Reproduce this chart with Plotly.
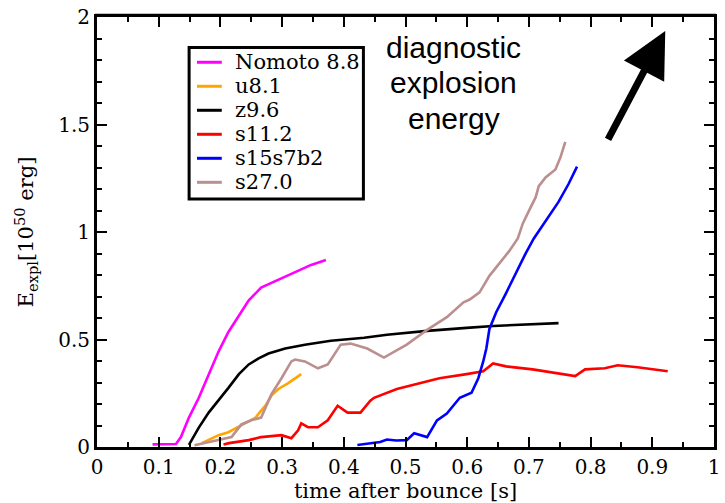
import plotly.graph_objects as go

# Diagnostic explosion energy vs. time after bounce for several progenitors
nomoto_t = [0.090, 0.110, 0.128, 0.136, 0.149, 0.165, 0.181, 0.197, 0.213, 0.230, 0.246, 0.266, 0.294, 0.326, 0.347, 0.371]
nomoto_e = [0.012, 0.012, 0.014, 0.046, 0.137, 0.229, 0.339, 0.444, 0.535, 0.613, 0.682, 0.741, 0.778, 0.819, 0.847, 0.870]

u81_t = [0.170, 0.197, 0.213, 0.241, 0.257, 0.266, 0.273, 0.283, 0.294, 0.310, 0.331]
u81_e = [0.018, 0.055, 0.069, 0.110, 0.137, 0.169, 0.192, 0.240, 0.270, 0.297, 0.339]

z96_t = [0.149, 0.165, 0.181, 0.197, 0.213, 0.230, 0.246, 0.262, 0.278, 0.305, 0.337, 0.379, 0.433, 0.470, 0.535, 0.599, 0.642, 0.748]
z96_e = [0.010, 0.090, 0.160, 0.215, 0.275, 0.339, 0.384, 0.412, 0.435, 0.458, 0.476, 0.494, 0.508, 0.522, 0.540, 0.554, 0.563, 0.576]

s112_t = [0.205, 0.214, 0.246, 0.266, 0.299, 0.315, 0.326, 0.331, 0.342, 0.358, 0.374, 0.390, 0.406, 0.427, 0.443,
          0.449, 0.486, 0.523, 0.555, 0.599, 0.626, 0.642, 0.663, 0.706, 0.748, 0.775, 0.791, 0.823, 0.844, 0.876, 0.925]
s112_e = [0.012, 0.018, 0.032, 0.046, 0.055, 0.041, 0.078, 0.110, 0.092, 0.092, 0.124, 0.192, 0.160, 0.160, 0.215,
          0.229, 0.270, 0.297, 0.320, 0.339, 0.352, 0.389, 0.375, 0.361, 0.343, 0.330, 0.361, 0.366, 0.380, 0.371, 0.352]

s15_t = [0.422, 0.459, 0.470, 0.485, 0.502, 0.514, 0.535, 0.551, 0.567, 0.588, 0.607, 0.618, 0.626, 0.631, 0.636,
         0.647, 0.662, 0.679, 0.695, 0.708, 0.727, 0.748, 0.764, 0.778]
s15_e = [0.009, 0.023, 0.035, 0.030, 0.032, 0.064, 0.046, 0.124, 0.156, 0.229, 0.252, 0.320, 0.398, 0.458, 0.549,
         0.627, 0.710, 0.810, 0.902, 0.970, 1.053, 1.140, 1.222, 1.304]

s27_t = [0.158, 0.197, 0.218, 0.234, 0.250, 0.266, 0.283, 0.299, 0.315, 0.321, 0.337, 0.358, 0.374, 0.395, 0.411,
         0.438, 0.465, 0.502, 0.535, 0.567, 0.594, 0.604, 0.620, 0.636, 0.652, 0.668, 0.682, 0.690, 0.700, 0.711,
         0.716, 0.727, 0.743, 0.751, 0.759]
s27_e = [0.008, 0.032, 0.046, 0.105, 0.124, 0.137, 0.247, 0.320, 0.398, 0.407, 0.398, 0.366, 0.384, 0.476, 0.481,
         0.458, 0.416, 0.476, 0.545, 0.604, 0.673, 0.686, 0.719, 0.796, 0.856, 0.911, 0.970, 1.039, 1.098, 1.162,
         1.213, 1.254, 1.291, 1.346, 1.419]

series = [
    ("Nomoto 8.8", nomoto_t, nomoto_e, "#ff00ff"),
    ("u8.1", u81_t, u81_e, "#ffa500"),
    ("z9.6", z96_t, z96_e, "#000000"),
    ("s11.2", s112_t, s112_e, "#ff0000"),
    ("s15s7b2", s15_t, s15_e, "#0000ff"),
    ("s27.0", s27_t, s27_e, "#bc8f8f"),
]

x_ticks = [0, 0.1, 0.2, 0.3, 0.4, 0.5, 0.6, 0.7, 0.8, 0.9, 1]
x_tick_text = ["0", "0.1", "0.2", "0.3", "0.4", "0.5", "0.6", "0.7", "0.8", "0.9", "1"]
y_ticks = [0, 0.5, 1, 1.5, 2]
y_tick_text = ["0", "0.5", "1", "1.5", "2"]

note_lines = ["diagnostic", "explosion", "energy"]

serif = "DejaVu Serif, serif"
sans = "Liberation Sans, Arial, sans-serif"

W, H = 725, 503
M_L, M_R, M_T, M_B = 97, 5, 10, 56
PW, PH = W - M_L - M_R, H - M_T - M_B


def px_to_paper(px, py):
    return (px - M_L) / PW, (H - M_B - py) / PH


fig = go.Figure()
for name, t, e, color in series:
    fig.add_trace(go.Scatter(x=t, y=e, mode="lines", name=name, showlegend=False,
                             line=dict(color=color, width=2.6)))

axis_common = dict(
    showgrid=False, zeroline=False, showline=True, linecolor="black", linewidth=3,
    mirror="ticks", ticks="inside", tickcolor="black", tickwidth=2, ticklen=10,
    ticklabeloverflow="allow",
    tickfont=dict(family=serif, size=20, color="black"),
)

fig.update_xaxes(range=[0, 1], tickvals=x_ticks, ticktext=x_tick_text,
                 minor=dict(dtick=0.05, ticks="inside", ticklen=5, tickwidth=2, tickcolor="black"),
                 title=dict(text="time after bounce [s]", font=dict(family=serif, size=21, color="black"),
                            standoff=4),
                 **axis_common)
fig.update_yaxes(range=[0, 2], tickvals=y_ticks, ticktext=y_tick_text,
                 minor=dict(dtick=0.1, ticks="inside", ticklen=5, tickwidth=2, tickcolor="black"),
                 title=dict(text="E<sub>expl</sub>[10<sup>50</sup> erg]",
                            font=dict(family=serif, size=21, color="black"), standoff=19),
                 **axis_common)

# Soft grey edge along the top and left of the frame
gx0, gy_top = px_to_paper(95, 7)
gx1, gy_bot = px_to_paper(722, 449)
fig.add_shape(type="line", xref="paper", yref="paper", x0=gx0, y0=gy_top, x1=gx1, y1=gy_top,
              line=dict(color="#c0c0c0", width=2), layer="below")
fig.add_shape(type="line", xref="paper", yref="paper", x0=gx0, y0=gy_top, x1=gx0, y1=gy_bot,
              line=dict(color="#808080", width=2), layer="below")

# Legend box drawn by hand: framed box, short line samples and labels
box_x0, box_y0 = px_to_paper(190, 195)
box_x1, box_y1 = px_to_paper(366, 41)
fig.add_shape(type="rect", xref="paper", yref="paper", x0=box_x0, y0=box_y0, x1=box_x1, y1=box_y1,
              line=dict(color="black", width=3), fillcolor="white", layer="above")
row_y0, row_step = 56, 24.4
for i, (name, _, _, color) in enumerate(series):
    ry = row_y0 + i * row_step
    lx0, ly = px_to_paper(198, ry)
    lx1, _ = px_to_paper(223, ry)
    tx, _ = px_to_paper(234, ry)
    fig.add_shape(type="line", xref="paper", yref="paper", x0=lx0, y0=ly, x1=lx1, y1=ly,
                  line=dict(color=color, width=3), layer="above")
    fig.add_annotation(x=tx, y=ly, xref="paper", yref="paper", text=name, showarrow=False,
                       xanchor="left", yanchor="middle",
                       font=dict(family=serif, size=21, color="black"))

# Three-line note, one annotation per line for tight spacing
for i, line in enumerate(note_lines):
    nx, ny = px_to_paper(457, 41 + i * 36)
    fig.add_annotation(x=nx, y=ny, xref="paper", yref="paper", text=line, showarrow=False,
                       xanchor="center", yanchor="middle",
                       font=dict(family=sans, size=30, color="black"))

fig.add_annotation(x=0.921, y=1.935, xref="x", yref="y", ax=-58, ay=110,
                   showarrow=True, arrowhead=2, arrowsize=1.3, arrowwidth=7, arrowcolor="black", text="")

fig.update_layout(
    width=W, height=H,
    margin=dict(l=M_L, r=M_R, t=M_T, b=M_B),
    paper_bgcolor="white", plot_bgcolor="white",
    showlegend=False,
)

fig.write_html("out.html")
